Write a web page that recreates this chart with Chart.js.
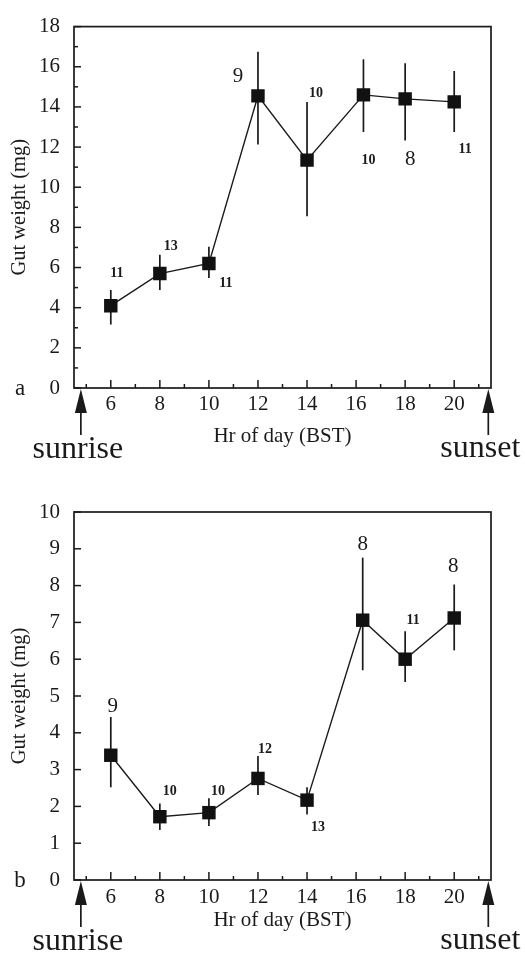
<!DOCTYPE html>
<html><head><meta charset="utf-8">
<script src="https://cdn.jsdelivr.net/npm/chart.js@4/dist/chart.umd.min.js"></script>
<style>
html,body{margin:0;padding:0;background:#fff;width:525px;height:953px;overflow:hidden}
#c1{position:absolute;left:0;top:0}
#c2{position:absolute;left:0;top:476px}
</style></head><body>
<canvas id="c1" width="525" height="476"></canvas>
<canvas id="c2" width="525" height="477"></canvas>
<script>
// ---- data (panel a) ----
const hoursA = [6, 8, 10, 12, 14, 16.3, 18, 20];
const gutA   = [4.1, 5.7, 6.2, 14.55, 11.35, 14.6, 14.4, 14.25];
const lowA   = [3.16, 4.88, 5.48, 12.13, 8.55, 12.75, 12.33, 12.75];
const highA  = [4.88, 6.64, 7.03, 16.75, 14.25, 16.37, 16.17, 15.79];
const nA     = [11, 13, 11, 9, 10, 10, 8, 11];
// ---- data (panel b) ----
const hoursB = [6, 8, 10, 12, 14, 16.27, 18, 20];
const gutB   = [3.39, 1.72, 1.83, 2.76, 2.17, 7.06, 6.0, 7.12];
const lowB   = [2.52, 1.36, 1.47, 2.31, 1.78, 5.70, 5.38, 6.24];
const highB  = [4.43, 2.08, 2.22, 3.37, 2.52, 8.76, 6.76, 8.03];
const nB     = [9, 10, 10, 12, 13, 8, 11, 8];
// ---- ticks / markers ----
const xTicks  = [6, 8, 10, 12, 14, 16, 18, 20];
const yTicksA = [0, 2, 4, 6, 8, 10, 12, 14, 16, 18];
const yTicksB = [0, 1, 2, 3, 4, 5, 6, 7, 8, 9, 10];
const sunriseHr = 4.78;
const sunsetHr = 21.39;

// ---- label placement (pixel offsets from points) ----
const nOffA = [[6,-32],[11,-27],[17,20],[-20,-19],[9,-67],[5,66],[5,61],[11,47]];
const nOffB = [[2,-49],[10,-25],[9,-21],[7,-29],[11,27],[0,-76],[8,-39],[-1,-51]];

const SERIF = "'Liberation Serif', 'DejaVu Serif', serif";
const INK = '#1a1a1a';

const decor = {
  id: 'decor',
  beforeDatasetsDraw(chart, args, o) {
    const {ctx} = chart; const xs = chart.scales.x, ys = chart.scales.y;
    ctx.save();
    ctx.strokeStyle = INK; ctx.lineWidth = 1.7;
    o.hours.forEach((h, i) => {
      const x = xs.getPixelForValue(h);
      ctx.beginPath();
      ctx.moveTo(x, ys.getPixelForValue(o.low[i]));
      ctx.lineTo(x, ys.getPixelForValue(o.high[i]));
      ctx.stroke();
    });
    ctx.restore();
  },
  afterDraw(chart, args, o) {
    const {ctx, chartArea: a} = chart; const xs = chart.scales.x, ys = chart.scales.y;
    ctx.save();
    ctx.strokeStyle = INK; ctx.lineWidth = 1.7;
    ctx.strokeRect(a.left, a.top, a.right - a.left, a.bottom - a.top);
    ctx.lineWidth = 1.5;
    for (let v = ys.min; v <= ys.max + 1e-9; v += o.yMinor) {
      const y = ys.getPixelForValue(v);
      const major = Math.abs(v / o.yMajor - Math.round(v / o.yMajor)) < 1e-6;
      ctx.beginPath(); ctx.moveTo(a.left, y); ctx.lineTo(a.left + (major ? 7 : 4), y); ctx.stroke();
    }
    for (let h = Math.ceil(xs.min); h <= xs.max; h++) {
      const x = xs.getPixelForValue(h);
      const major = h % 2 === 0;
      ctx.beginPath(); ctx.moveTo(x, a.bottom); ctx.lineTo(x, a.bottom - (major ? 8 : 4)); ctx.stroke();
    }
    ctx.fillStyle = INK; ctx.textAlign = 'center'; ctx.textBaseline = 'middle';
    o.hours.forEach((h, i) => {
      const x = xs.getPixelForValue(h), y = ys.getPixelForValue(o.vals[i]);
      const s = String(o.n[i]);
      ctx.font = s.length > 1 ? 'bold 14px ' + SERIF : '21px ' + SERIF;
      ctx.fillText(s, x + o.off[i][0], y + o.off[i][1]);
    });
    const arrow = (hr) => {
      const x = xs.getPixelForValue(hr), t = a.bottom + 1;
      ctx.beginPath(); ctx.moveTo(x, t); ctx.lineTo(x - 6, t + 24); ctx.lineTo(x + 6, t + 24); ctx.closePath(); ctx.fill();
      ctx.lineWidth = 1.7; ctx.beginPath(); ctx.moveTo(x, t + 20); ctx.lineTo(x, a.bottom + 47); ctx.stroke();
      return x;
    };
    const xr = arrow(sunriseHr), xe = arrow(sunsetHr);
    ctx.font = '32px ' + SERIF; ctx.textBaseline = 'alphabetic'; ctx.textAlign = 'center';
    ctx.fillText('sunrise', xr - 3, a.bottom + 70);
    ctx.fillText('sunset', xe - 8, a.bottom + 69);
    ctx.font = '23px ' + SERIF;
    ctx.fillText(o.letter, 20, a.bottom + 7);
    ctx.restore();
  }
};

function makeChart(id, cfg) {
  return new Chart(document.getElementById(id), {
    type: 'line',
    data: { datasets: [{
      data: cfg.hours.map((h, i) => ({x: h, y: cfg.vals[i]})),
      borderColor: INK, borderWidth: 1.4, tension: 0,
      pointStyle: 'rect', pointRadius: 9.5, pointBackgroundColor: '#111', pointBorderWidth: 0,
      pointHoverRadius: 9.5
    }]},
    options: {
      responsive: false, animation: false, devicePixelRatio: 1,
      layout: { padding: { top: cfg.padTop, right: 34, left: 0, bottom: 0 } },
      plugins: {
        legend: { display: false }, tooltip: { enabled: false },
        decor: { hours: cfg.hours, vals: cfg.vals, low: cfg.low, high: cfg.high, n: cfg.n, off: cfg.off,
                 yMinor: cfg.yMinor, yMajor: cfg.yMajor, letter: cfg.letter }
      },
      scales: {
        x: {
          type: 'linear', min: 4.5, max: 21.5,
          afterBuildTicks: s => { s.ticks = xTicks.map(v => ({value: v})); },
          afterFit: s => { s.height = cfg.xHeight; },
          grid: { display: false, drawTicks: false }, border: { display: false },
          ticks: { padding: cfg.xTickPad, color: INK, autoSkip: false, maxRotation: 0,
                   font: { family: SERIF, size: 21, lineHeight: 1.2 }, callback: v => String(v) },
          title: { display: true, text: 'Hr of day (BST)', color: INK,
                   font: { family: SERIF, size: 21, lineHeight: 1 }, padding: { top: 0, bottom: cfg.xTitlePad } }
        },
        y: {
          type: 'linear', min: 0, max: cfg.ymax,
          afterBuildTicks: s => { s.ticks = cfg.yTicks.map(v => ({value: v})); },
          afterFit: s => { s.width = 74; },
          grid: { display: false, drawTicks: false }, border: { display: false },
          ticks: { padding: 14, color: INK, font: { family: SERIF, size: 21 }, callback: v => String(v) },
          title: { display: true, text: 'Gut weight (mg)', color: INK,
                   font: { family: SERIF, size: 20.5, lineHeight: 1 }, padding: { top: 9, bottom: 0 } }
        }
      }
    },
    plugins: [decor]
  });
}

makeChart('c1', { hours: hoursA, vals: gutA, low: lowA, high: highA, n: nA, off: nOffA,
  yTicks: yTicksA, ymax: 18, yMinor: 1, yMajor: 2, letter: 'a',
  padTop: 20, xHeight: 88, xTickPad: 4, xTitlePad: 29 });
makeChart('c2', { hours: hoursB, vals: gutB, low: lowB, high: highB, n: nB, off: nOffB,
  yTicks: yTicksB, ymax: 10, yMinor: 1, yMajor: 1, letter: 'b',
  padTop: 36, xHeight: 73, xTickPad: 5, xTitlePad: 22 });
</script>
</body></html>
